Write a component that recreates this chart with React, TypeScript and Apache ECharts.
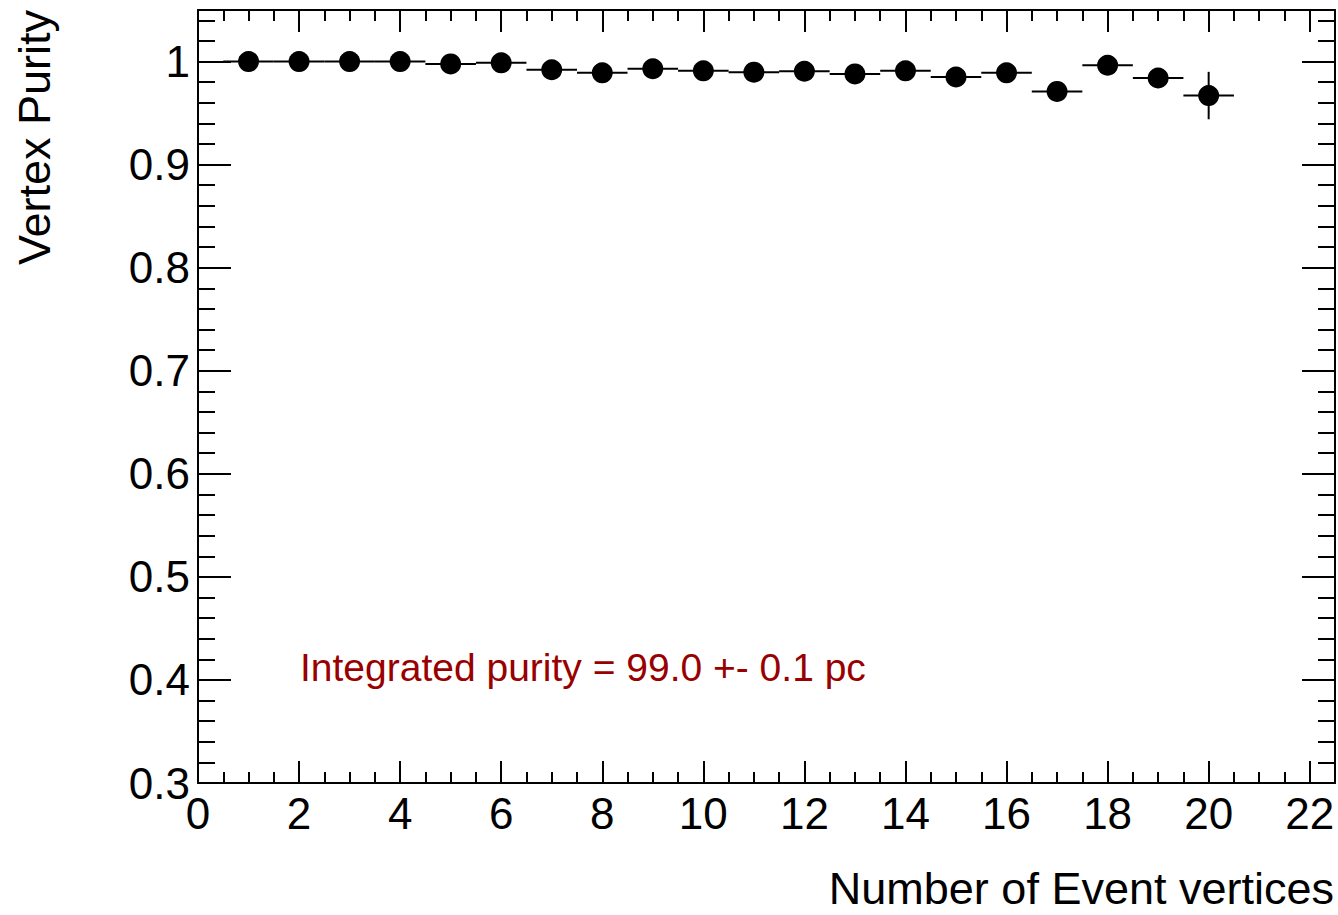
import React, { useEffect, useRef } from 'react';
import * as echarts from 'echarts';

// Number of event vertices (bin centres)
const vertexCounts = [1, 2, 3, 4, 5, 6, 7, 8, 9, 10, 11, 12, 13, 14, 15, 16, 17, 18, 19, 20];
// Vertex purity per bin
const purity = [
  1.0, 1.0, 1.0, 1.0, 0.9977, 0.9987, 0.992, 0.989, 0.993, 0.991,
  0.9897, 0.9906, 0.988, 0.991, 0.985, 0.989, 0.971, 0.9964, 0.984, 0.967,
];
// Statistical error on purity
const purityErr = [
  0.0005, 0.0005, 0.001, 0.001, 0.0015, 0.0015, 0.002, 0.003, 0.003, 0.003,
  0.004, 0.004, 0.005, 0.005, 0.006, 0.006, 0.009, 0.004, 0.008, 0.023,
];
const binHalfWidth = 0.5;

const xTitle = 'Number of Event vertices';
const yTitle = 'Vertex Purity';
const annotation = 'Integrated purity = 99.0 +- 0.1 pc';

const FONT = "'Liberation Sans', Arial, Helvetica, sans-serif";

const GRID = { left: 198, top: 10, right: 2, bottom: 132 };

function xLabel(v: number) {
  return Math.abs(v % 2) < 1e-9 ? String(v) : '';
}
function yLabel(v: number) {
  const t = v * 10;
  return Math.abs(t - Math.round(t)) < 1e-6 ? String(Math.round(t) / 10) : '';
}

function makeX(position: 'bottom' | 'top', major: boolean) {
  return {
    type: 'value',
    min: 0,
    max: 22.5,
    interval: major ? 2 : 0.5,
    position,
    axisLine: { show: major, onZero: false, lineStyle: { color: '#000', width: 2 } },
    axisTick: { show: true, inside: true, length: major ? 22 : 11, lineStyle: { color: '#000', width: 2 } },
    axisLabel: {
      show: major && position === 'bottom',
      formatter: xLabel,
      fontSize: 44,
      color: '#000',
      fontFamily: FONT,
      margin: 8,
    },
    splitLine: { show: false },
  };
}

function makeY(position: 'left' | 'right', major: boolean) {
  return {
    type: 'value',
    min: 0.3,
    max: 1.05,
    interval: major ? 0.1 : 0.02,
    position,
    axisLine: { show: major, onZero: false, lineStyle: { color: '#000', width: 2 } },
    axisTick: { show: true, inside: true, length: major ? 33 : 17, lineStyle: { color: '#000', width: 2 } },
    axisLabel: {
      show: major && position === 'left',
      formatter: yLabel,
      fontSize: 44,
      color: '#000',
      fontFamily: FONT,
      margin: 8,
    },
    splitLine: { show: false },
  };
}

export default function App() {
  const ref = useRef<HTMLDivElement>(null);

  useEffect(() => {
    if (!ref.current) return;
    const chart = echarts.init(ref.current, undefined, { renderer: 'svg' });
    const points = vertexCounts.map((x, i) => [x, purity[i], purityErr[i]]);

    chart.setOption({
      animation: false,
      backgroundColor: '#fff',
      grid: { ...GRID, containLabel: false },
      xAxis: [makeX('bottom', true), makeX('bottom', false), makeX('top', true), makeX('top', false)],
      yAxis: [makeY('left', true), makeY('left', false), makeY('right', true), makeY('right', false)],
      series: [
        {
          type: 'custom',
          xAxisIndex: 0,
          yAxisIndex: 0,
          data: points,
          z: 2,
          renderItem: (params: any, api: any) => {
            const x = api.value(0);
            const y = api.value(1);
            const e = api.value(2);
            const l = api.coord([x - binHalfWidth, y]);
            const r = api.coord([x + binHalfWidth, y]);
            const t = api.coord([x, y + e]);
            const b = api.coord([x, y - e]);
            return {
              type: 'group',
              children: [
                { type: 'line', shape: { x1: l[0], y1: l[1], x2: r[0], y2: r[1] }, style: { stroke: '#000', lineWidth: 2 } },
                { type: 'line', shape: { x1: t[0], y1: t[1], x2: b[0], y2: b[1] }, style: { stroke: '#000', lineWidth: 2 } },
              ],
            };
          },
        },
        {
          type: 'scatter',
          xAxisIndex: 0,
          yAxisIndex: 0,
          data: points.map((p) => [p[0], p[1]]),
          symbol: 'circle',
          symbolSize: 21,
          itemStyle: { color: '#000', opacity: 1 },
          z: 3,
        },
      ],
      graphic: [
        {
          type: 'text',
          right: 4,
          top: 866,
          style: { text: xTitle, fontSize: 45, fontFamily: FONT, fill: '#000' },
        },
        {
          type: 'text',
          x: 34,
          y: 10,
          rotation: Math.PI / 2,
          style: { text: yTitle, fontSize: 45, fontFamily: FONT, fill: '#000', align: 'right', verticalAlign: 'middle' },
        },
        {
          type: 'text',
          x: 300,
          y: 667,
          style: { text: annotation, fontSize: 39, fontFamily: FONT, fill: '#990000', align: 'left', verticalAlign: 'middle' },
        },
      ],
    });

    return () => chart.dispose();
  }, []);

  return <div ref={ref} style={{ position: 'absolute', left: 0, top: 0, width: 1338, height: 915 }} />;
}
